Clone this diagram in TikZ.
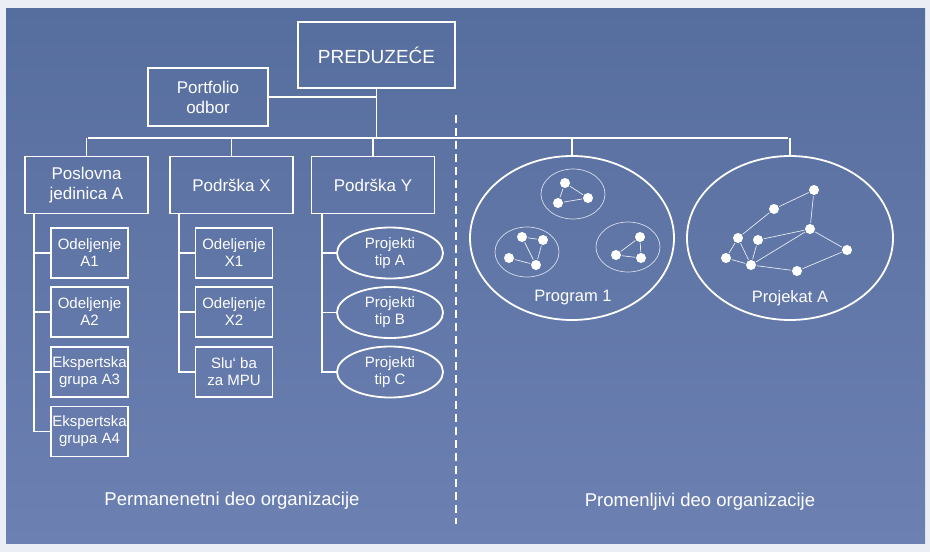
\documentclass[tikz,border=0pt]{standalone}
\usepackage{fontspec}
\setmainfont{Liberation Sans}
\usetikzlibrary{shapes.geometric}

\definecolor{bgtop}{RGB}{86,110,158}
\definecolor{bgbot}{RGB}{108,128,178}
\definecolor{bgedge}{RGB}{236,238,246}

\begin{document}
\begin{tikzpicture}[x=1pt,y=-1pt,white,line width=1.8pt,
    box/.style={draw, rectangle, inner sep=0pt, align=center},
    bigbox/.style={box, minimum width=123pt, minimum height=57pt, font=\fontsize{17}{20}\selectfont},
    unitbox/.style={box, minimum width=77pt, minimum height=50pt, font=\fontsize{15}{17}\selectfont},
    projell/.style={draw, ellipse, inner sep=0pt, minimum width=106pt, minimum height=51pt, align=center, font=\fontsize{15}{17}\selectfont},
    bigell/.style={draw, ellipse, inner sep=0pt, minimum width=204pt, minimum height=164pt},
    group/.style={draw, draw opacity=0.75, ellipse, line width=0.7pt, inner sep=0pt, minimum width=64pt, minimum height=50pt},
    dot/.style={circle, fill=white, inner sep=0pt, minimum size=10pt},
    link/.style={line width=0.7pt, opacity=0.85},
    divider/.style={line width=1.3pt, dash pattern=on 8pt off 5pt},
    caption/.style={font=\fontsize{18.5}{20}\selectfont}]

    \useasboundingbox (0,0) rectangle (930,552);
    \fill[bgedge] (0,0) rectangle (930,552);
    \shade[top color=bgtop, bottom color=bgbot] (6,8) rectangle (925,543);

    % ================= TOP LEVEL =================
    \node[box, minimum width=157pt, minimum height=66pt, font=\fontsize{19}{22}\selectfont] (top) at (376.5,55) {PREDUZEĆE};
    \node[bigbox, minimum width=120pt, minimum height=58pt] (portfolio) at (208,97) {Portfolio\\odbor};

    % bus line under the top
    \coordinate (busL) at (88,138);
    \coordinate (busR) at (788,138);
    \draw (busL) -- (busR);
    \draw (top.south) -- (top.south |- busL);
    \draw (portfolio.east) -- (portfolio.east -| top.south);

    % divider between the two parts
    \coordinate (dtop) at (456,115);
    \coordinate (dbot) at (456,524);
    \draw[divider] (dtop) -- (dbot);

    % ================= PERMANENT PART =================
    \node[bigbox] (posl) at (86.5,185) {Poslovna\\jedinica A};
    \node[bigbox] (podX) at (231.5,185) {Podrška X};
    \node[bigbox] (podY) at (373,185) {Podrška Y};

    \draw (posl.north) -- (posl.north |- busL);
    \draw (podX.north) -- (podX.north |- busL);
    \draw (podY.north) -- (podY.north |- busL);

    % units under Poslovna jedinica A
    \node[unitbox] (a1) at (89.5,253) {Odeljenje\\A1};
    \node[unitbox] (a2) at (89.5,312) {Odeljenje\\A2};
    \node[unitbox] (a3) at (89.5,372) {Ekspertska\\grupa A3};
    \node[unitbox] (a4) at (89.5,431.5) {Ekspertska\\grupa A4};

    \coordinate (spA) at ([xshift=10pt]posl.south west);
    \draw (spA) |- (a4.west);
    \draw (spA |- a1.west) -- (a1.west);
    \draw (spA |- a2.west) -- (a2.west);
    \draw (spA |- a3.west) -- (a3.west);

    % units under Podrška X
    \node[unitbox] (x1) at (234,253) {Odeljenje\\X1};
    \node[unitbox] (x2) at (234,312) {Odeljenje\\X2};
    \node[unitbox] (mpu) at (234,372) {Slu`{} ba\\za MPU};

    \coordinate (spX) at ([xshift=10pt]podX.south west);
    \draw (spX) |- (mpu.west);
    \draw (spX |- x1.west) -- (x1.west);
    \draw (spX |- x2.west) -- (x2.west);

    % project types under Podrška Y
    \node[projell] (ta) at (390,253) {Projekti\\tip A};
    \node[projell] (tb) at (390,312.5) {Projekti\\tip B};
    \node[projell] (tc) at (390,372) {Projekti\\tip C};

    \coordinate (spY) at ([xshift=11pt]podY.south west);
    \draw (spY) |- (tc.west);
    \draw (spY |- ta.west) -- (ta.west);
    \draw (spY |- tb.west) -- (tb.west);

    \node[caption] (perm) at (232,501) {Permanenetni deo organizacije};

    % ================= VARIABLE PART =================
    \node[bigell] (prog) at (572,238) {};
    \node[bigell, minimum width=206pt] (proj) at (790,238) {};
    \draw (prog.north) -- (prog.north |- busL);
    \draw (proj.north) -- (proj.north |- busR);

    \node[font=\fontsize{16.5}{19}\selectfont] (progl) at (573,298) {Program 1};
    \node[font=\fontsize{16.5}{19}\selectfont] (projl) at (790,298) {Projekat A};

    % groups inside Program 1
    \node[group] (g1) at (573,194) {};
    \node[dot] (p1) at (565,183) {};
    \node[dot] (p2) at (588,198) {};
    \node[dot] (p3) at (558,203) {};
    \draw[link] (p1) -- (p2) -- (p3) -- (p1);

    \node[group] (g2) at (527,252) {};
    \node[dot] (q1) at (522,237) {};
    \node[dot] (q2) at (543,240) {};
    \node[dot] (q3) at (509,258) {};
    \node[dot] (q4) at (536,265) {};
    \draw[link] (q1) -- (q2) -- (q4) -- (q1);
    \draw[link] (q3) -- (q4);

    \node[group] (g3) at (628,247) {};
    \node[dot] (r1) at (640,237) {};
    \node[dot] (r2) at (616,255) {};
    \node[dot] (r3) at (641,258) {};
    \draw[link] (r2) -- (r1) -- (r3) -- (r2);

    % network inside Projekat A
    \node[dot] (n1) at (814,190) {};
    \node[dot] (n2) at (774,209) {};
    \node[dot] (n3) at (810,229) {};
    \node[dot] (n4) at (738,238) {};
    \node[dot] (n5) at (758,240) {};
    \node[dot] (n6) at (847,250) {};
    \node[dot] (n7) at (726,258) {};
    \node[dot] (n8) at (751,265) {};
    \node[dot] (n9) at (797,271) {};
    \draw[link] (n3) -- (n1) -- (n2) -- (n4) -- (n7) -- (n8) -- (n4);
    \draw[link] (n5) -- (n3) -- (n6) -- (n9) -- (n8) -- (n5);
    \draw[link] (n8) -- (n3);

    \node[caption] (var) at (700,502) {Promenljivi deo organizacije};

\end{tikzpicture}
\end{document}
